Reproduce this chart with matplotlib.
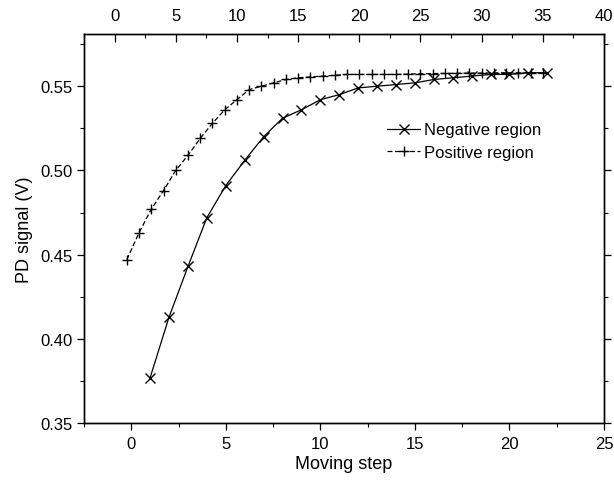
import matplotlib
matplotlib.use("Agg")
import matplotlib.pyplot as plt
from matplotlib.ticker import MultipleLocator

plt.rcParams['font.family'] = ['Liberation Sans', 'DejaVu Sans']

neg_x = list(range(1, 23))
neg_y = [0.377, 0.413, 0.443, 0.472, 0.491, 0.506, 0.520, 0.531, 0.536, 0.542,
         0.545, 0.549, 0.550, 0.551, 0.552, 0.554, 0.555, 0.556, 0.557, 0.557,
         0.558, 0.558]

pos_x = list(range(1, 36))
pos_y = [0.447, 0.463, 0.477, 0.488, 0.500, 0.509, 0.519, 0.528, 0.536, 0.542,
         0.548, 0.550, 0.552, 0.554, 0.555, 0.5555, 0.556, 0.5565, 0.557, 0.557,
         0.557, 0.557, 0.557, 0.5572, 0.5574, 0.5575, 0.5576, 0.5577, 0.5578, 0.5578,
         0.5579, 0.558, 0.558, 0.558, 0.558]

fig = plt.figure(figsize=(6.14, 4.81), dpi=100)
ax = fig.add_axes([0.1368, 0.1185, 0.8469, 0.8087])
ax2 = ax.twiny()

ln1, = ax.plot(neg_x, neg_y, color='black', lw=0.9, marker='x', markersize=7.5,
               markeredgewidth=1.0, label='Negative region')
ln2, = ax2.plot(pos_x, pos_y, color='black', lw=0.9, linestyle=(0, (4, 2)),
                marker='+', markersize=7, markeredgewidth=1.0, label='Positive region')

ax.set_xlim(-2.5, 25)
ax2.set_xlim(-2.5, 40)
ax.set_ylim(0.35, 0.581)

ax.xaxis.set_major_locator(MultipleLocator(5))
ax.xaxis.set_minor_locator(MultipleLocator(2.5))
ax2.xaxis.set_major_locator(MultipleLocator(5))
ax2.xaxis.set_minor_locator(MultipleLocator(2.5))
ax.yaxis.set_major_locator(MultipleLocator(0.05))
ax.yaxis.set_minor_locator(MultipleLocator(0.025))
ax.yaxis.set_major_formatter(matplotlib.ticker.FormatStrFormatter('%.2f'))

ax.tick_params(axis='x', which='major', direction='out', length=5, width=0.9,
               labelsize=12, pad=4, top=False)
ax.tick_params(axis='x', which='minor', direction='out', length=3, width=0.8, top=False)
ax.tick_params(axis='y', which='major', direction='out', length=5, width=0.9,
               labelsize=12, right=True)
ax.tick_params(axis='y', which='minor', direction='out', length=3, width=0.8, right=True)
ax2.tick_params(axis='x', which='major', direction='in', length=6, width=0.9,
                labelsize=12, pad=8)
ax2.tick_params(axis='x', which='minor', direction='in', length=3, width=0.8)

for a in (ax, ax2):
    for s in a.spines.values():
        s.set_linewidth(1.0)

ax.set_xlabel('Moving step', fontsize=13, labelpad=3)
ax.set_ylabel('PD signal (V)', fontsize=13, labelpad=5)

leg = ax.legend(handles=[ln1, ln2], loc='upper left', bbox_to_anchor=(0.57, 0.79),
                frameon=False, fontsize=12, handlelength=2.0, handletextpad=0.2,
                labelspacing=0.45, borderaxespad=0)

fig.savefig('out.png', dpi=100)
